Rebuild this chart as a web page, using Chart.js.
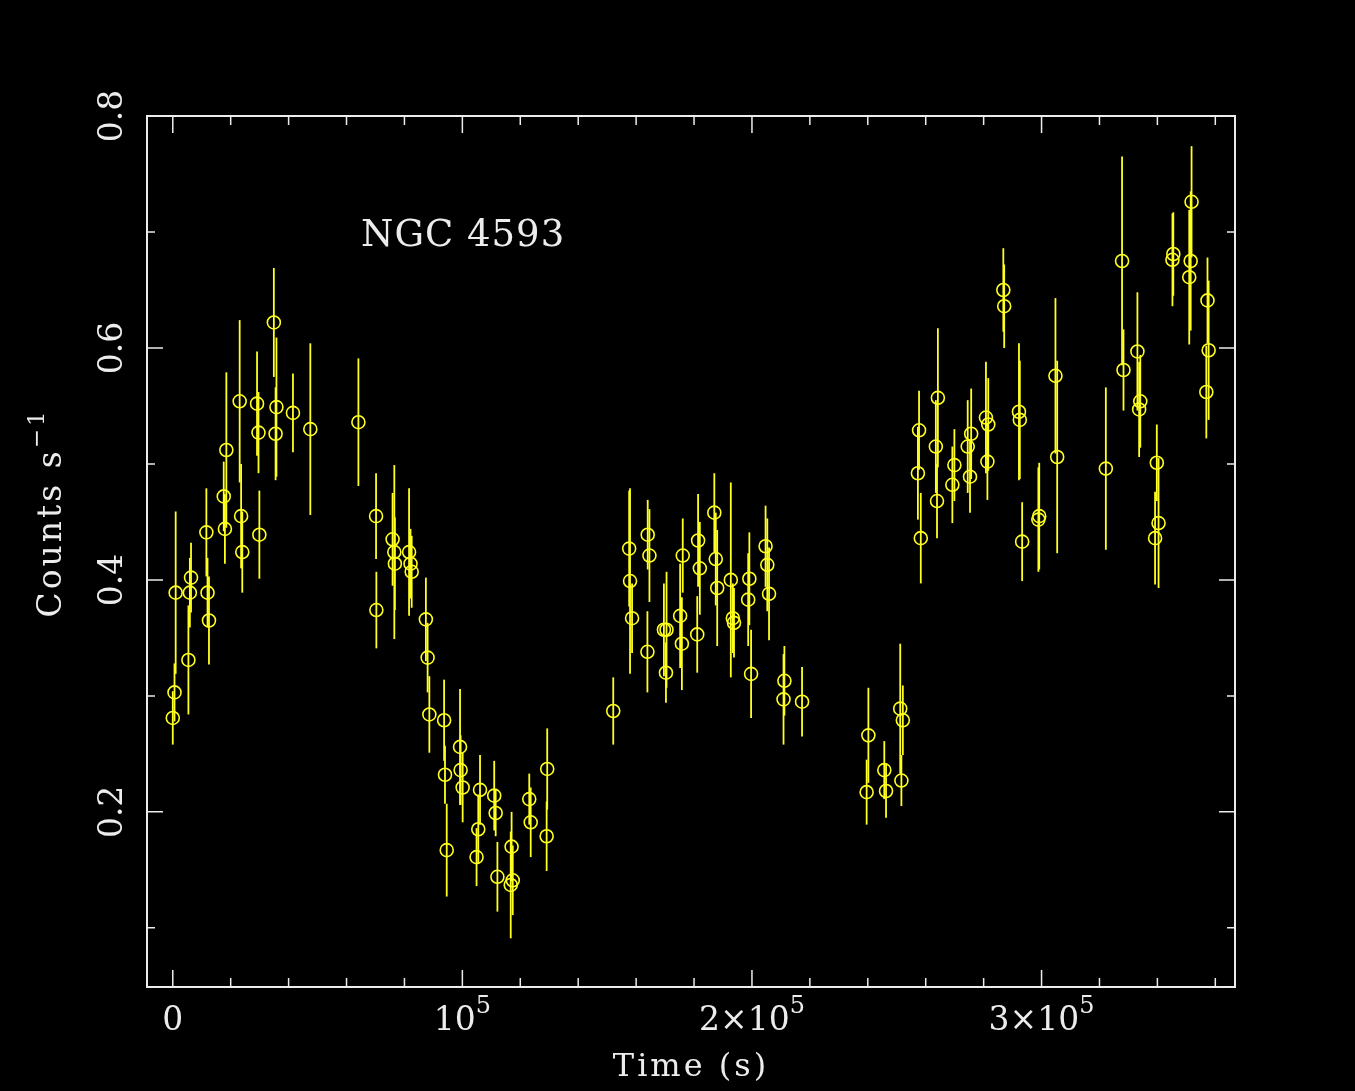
<!DOCTYPE html>
<html>
<head>
<meta charset="utf-8">
<script src="https://cdn.jsdelivr.net/npm/chart.js@4.4.0/dist/chart.umd.min.js"></script>
<style>
  html, body { margin: 0; padding: 0; background: #000; }
  canvas { display: block; background: #000; }
</style>
</head>
<body>
<canvas id="lc" width="1355" height="1091"></canvas>
<script>
// NGC 4593 light curve: time (s), count rate (counts/s), 1-sigma error
const times = [
  0, 600, 1000, 5400, 5900, 6300, 11600, 12000, 12500, 17600,
  18000, 18500, 23100, 23600, 24000, 29100, 29600, 29900, 34900, 35500,
  35800, 41500, 47500, 64100, 70200, 70300, 75900, 76500, 76700, 81600,
  82100, 82500, 87400, 88000, 88600, 93700, 94000, 94600, 99200, 99400,
  100100, 104900, 105500, 106100, 111000, 111500, 112100, 116700, 117000, 117400,
  123100, 123600, 129100, 129300,
  152100, 157600, 157900, 158600, 163900, 164000, 164600, 169600, 170300, 170500,
  175200, 175800, 176100, 181100, 181400, 182000, 187000, 187500, 188000, 192700,
  193400, 193800, 198700, 199100, 199700, 204700, 205300, 205900, 210900, 211200,
  217300,
  239600, 240200, 245700, 246300, 251200, 251600, 252100, 257300, 257700, 258300,
  263500, 263900, 264200, 269200, 269900, 274500, 275300, 275700, 280800, 281300,
  281600, 286800, 287100, 292200, 292500, 293300,
  298900, 299200, 304800, 305400, 322200, 327800, 328300, 333100, 333700, 334100,
  339200, 339800, 340400, 345200, 345500, 351000, 351500, 351800, 356900, 357300,
  357700
];
const rates = [
  0.281, 0.303, 0.389, 0.331, 0.389, 0.402, 0.441, 0.389, 0.365, 0.472,
  0.444, 0.512, 0.554, 0.455, 0.424, 0.552, 0.527, 0.439, 0.622, 0.526,
  0.549, 0.544, 0.530, 0.536, 0.455, 0.374, 0.435, 0.424, 0.414, 0.424,
  0.414, 0.407, 0.366, 0.333, 0.284, 0.279, 0.232, 0.167, 0.256, 0.236,
  0.221, 0.161, 0.185, 0.219, 0.214, 0.199, 0.144, 0.137, 0.170, 0.141,
  0.211, 0.191, 0.179, 0.237,
  0.287, 0.427, 0.399, 0.367, 0.338, 0.439, 0.421, 0.357, 0.320, 0.357,
  0.369, 0.345, 0.421, 0.353, 0.434, 0.410, 0.458, 0.418, 0.393, 0.400,
  0.367, 0.363, 0.383, 0.401, 0.319, 0.429, 0.413, 0.388, 0.297, 0.313,
  0.295,
  0.217, 0.266, 0.236, 0.218, 0.289, 0.227, 0.279, 0.492, 0.529, 0.436,
  0.515, 0.468, 0.557, 0.482, 0.499, 0.515, 0.489, 0.526, 0.540, 0.502,
  0.534, 0.650, 0.636, 0.545, 0.538, 0.433,
  0.452, 0.455, 0.576, 0.506, 0.496, 0.675, 0.581, 0.597, 0.547, 0.554,
  0.436, 0.501, 0.449, 0.676, 0.681, 0.661, 0.675, 0.726, 0.562, 0.641,
  0.598
];
const errors = [
  0.023, 0.025, 0.070, 0.047, 0.030, 0.030, 0.038, 0.030, 0.038, 0.030,
  0.030, 0.067, 0.070, 0.045, 0.035, 0.045, 0.035, 0.038, 0.047, 0.040,
  0.060, 0.034, 0.074, 0.055, 0.037, 0.033, 0.040, 0.075, 0.040, 0.055,
  0.030, 0.031, 0.036, 0.030, 0.033, 0.035, 0.025, 0.040, 0.050, 0.030,
  0.030, 0.025, 0.030, 0.030, 0.030, 0.020, 0.030, 0.046, 0.030, 0.030,
  0.022, 0.030, 0.030, 0.035,
  0.029, 0.050, 0.080, 0.030, 0.035, 0.030, 0.040, 0.040, 0.026, 0.050,
  0.045, 0.040, 0.032, 0.033, 0.040, 0.040, 0.034, 0.040, 0.050, 0.084,
  0.030, 0.030, 0.040, 0.040, 0.038, 0.035, 0.040, 0.040, 0.039, 0.030,
  0.030,
  0.028, 0.041, 0.025, 0.023, 0.056, 0.022, 0.030, 0.040, 0.034, 0.039,
  0.040, 0.032, 0.060, 0.033, 0.031, 0.040, 0.031, 0.039, 0.048, 0.033,
  0.040, 0.036, 0.036, 0.059, 0.051, 0.034,
  0.045, 0.046, 0.067, 0.083, 0.070, 0.090, 0.035, 0.051, 0.041, 0.040,
  0.040, 0.033, 0.056, 0.040, 0.036, 0.058, 0.060, 0.048, 0.040, 0.037,
  0.060
];

// axis ticks and labels
const xMajorTicks = [0, 100000, 200000, 300000];
const xMajorLabels = [['0', ''], ['10', '5'], ['2\u00d710', '5'], ['3\u00d710', '5']];
const xMinorTicks = [20000, 40000, 60000, 80000, 120000, 140000, 160000, 180000,
  220000, 240000, 260000, 280000, 320000, 340000, 360000];
const yMajorTicks = [0.2, 0.4, 0.6, 0.8];
const yMajorLabels = ['0.2', '0.4', '0.6', '0.8'];
const yMinorTicks = [0.1, 0.3, 0.5, 0.7];

const sourceName = 'NGC 4593';
const xTitle = 'Time (s)';
const yTitle = ['Counts s', '\u22121'];

const YELLOW = '#ffff20';
const WHITE = '#ececec';
const FONT = '"DejaVu Serif", "Liberation Serif", serif';

// draw base text + raised superscript, centred on cx
function supText(ctx, base, sup, cx, y, size, supSize, rise, spacing) {
  ctx.letterSpacing = spacing + 'px';
  ctx.font = size + 'px ' + FONT;
  const wb = ctx.measureText(base).width;
  ctx.font = supSize + 'px ' + FONT;
  const ws = sup ? ctx.measureText(sup).width : 0;
  let x = cx - (wb + ws) / 2;
  ctx.textAlign = 'left';
  ctx.textBaseline = 'alphabetic';
  ctx.font = size + 'px ' + FONT;
  ctx.fillText(base, x, y);
  if (sup) {
    ctx.font = supSize + 'px ' + FONT;
    ctx.fillText(sup, x + wb, y - rise);
  }
  ctx.letterSpacing = '0px';
}

const errorBars = {
  id: 'errorBars',
  beforeDatasetsDraw(chart) {
    const ctx = chart.ctx;
    const xs = chart.scales.x, ys = chart.scales.y;
    ctx.save();
    ctx.strokeStyle = YELLOW;
    ctx.lineWidth = 1.8;
    times.forEach((t, i) => {
      const px = xs.getPixelForValue(t);
      ctx.beginPath();
      ctx.moveTo(px, ys.getPixelForValue(rates[i] - errors[i]));
      ctx.lineTo(px, ys.getPixelForValue(rates[i] + errors[i]));
      ctx.stroke();
    });
    ctx.restore();
  }
};

const frame = {
  id: 'frame',
  beforeDraw(chart) {
    const ctx = chart.ctx;
    ctx.save();
    ctx.fillStyle = '#000';
    ctx.fillRect(0, 0, chart.width, chart.height);
    ctx.restore();
  },
  afterDraw(chart) {
    const ctx = chart.ctx;
    const a = chart.chartArea;
    const xs = chart.scales.x, ys = chart.scales.y;
    ctx.save();
    ctx.strokeStyle = WHITE;
    ctx.lineWidth = 2;
    ctx.strokeRect(a.left, a.top, a.right - a.left, a.bottom - a.top);

    ctx.lineWidth = 1.5;
    ctx.beginPath();
    const xt = (v, len) => {
      const p = xs.getPixelForValue(v);
      ctx.moveTo(p, a.bottom); ctx.lineTo(p, a.bottom - len);
      ctx.moveTo(p, a.top); ctx.lineTo(p, a.top + len);
    };
    const yt = (v, len) => {
      const p = ys.getPixelForValue(v);
      ctx.moveTo(a.left, p); ctx.lineTo(a.left + len, p);
      ctx.moveTo(a.right, p); ctx.lineTo(a.right - len, p);
    };
    xMajorTicks.forEach(v => xt(v, 17));
    xMinorTicks.forEach(v => xt(v, 9));
    yMajorTicks.forEach(v => yt(v, 16));
    yMinorTicks.forEach(v => yt(v, 8));
    ctx.stroke();

    ctx.fillStyle = WHITE;
    // x tick labels
    xMajorTicks.forEach((v, i) => {
      const [b, s] = xMajorLabels[i];
      supText(ctx, b, s, xs.getPixelForValue(v), 1030, 33, 24, 17, 0);
    });
    // y tick labels, rotated
    yMajorTicks.forEach((v, i) => {
      ctx.save();
      ctx.translate(122, ys.getPixelForValue(v));
      ctx.rotate(-Math.PI / 2);
      supText(ctx, yMajorLabels[i], '', 0, 0, 33, 22, 0, 0);
      ctx.restore();
    });
    // axis titles
    supText(ctx, xTitle, '', (a.left + a.right) / 2, 1076, 32, 22, 0, 3);
    ctx.save();
    ctx.translate(61, 513);
    ctx.rotate(-Math.PI / 2);
    supText(ctx, yTitle[0], yTitle[1], 0, 0, 33, 23, 17, 3);
    ctx.restore();

    // source label
    ctx.font = '37px ' + FONT;
    ctx.letterSpacing = '1px';
    ctx.textAlign = 'left';
    ctx.fillText(sourceName, xs.getPixelForValue(65000), ys.getPixelForValue(0.688));
    ctx.restore();
  }
};

new Chart(document.getElementById('lc'), {
  type: 'scatter',
  data: {
    datasets: [{
      data: times.map((t, i) => ({ x: t, y: rates[i] })),
      pointStyle: 'circle',
      pointRadius: 6.5,
      borderWidth: 1.6,
      borderColor: YELLOW,
      backgroundColor: 'rgba(0,0,0,0)'
    }]
  },
  options: {
    responsive: false,
    animation: false,
    devicePixelRatio: 1,
    layout: { padding: { left: 147, right: 120, top: 116, bottom: 104 } },
    scales: {
      x: { type: 'linear', min: -8900, max: 366800, display: false },
      y: { type: 'linear', min: 0.049, max: 0.8, display: false }
    },
    plugins: {
      legend: { display: false },
      tooltip: { enabled: false }
    }
  },
  plugins: [errorBars, frame]
});
</script>
</body>
</html>
